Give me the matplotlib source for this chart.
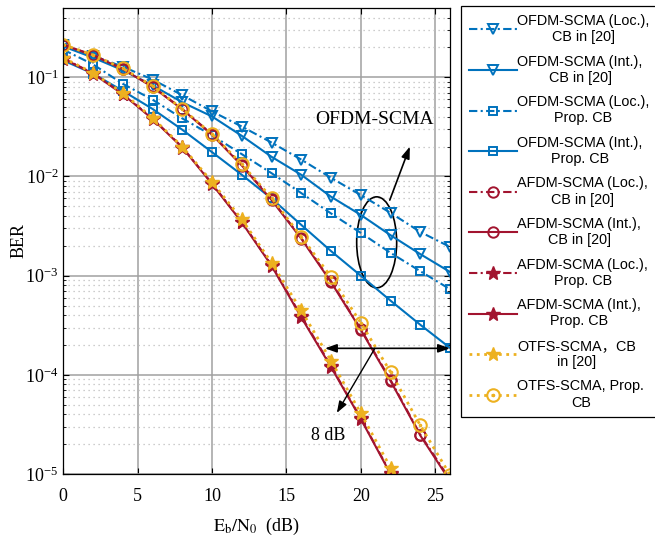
"""
BER vs Eb/N0 for OFDM / AFDM / OTFS-SCMA with two codebooks
"""
import numpy as np
import matplotlib
matplotlib.use('Agg')
import matplotlib.pyplot as plt
from matplotlib.path import Path
from matplotlib.patches import Ellipse
from matplotlib.font_manager import FontProperties
import matplotlib.transforms as mtransforms
from matplotlib.ticker import LogLocator, NullLocator, NullFormatter

plt.rcParams['font.family'] = 'serif'
plt.rcParams['font.serif'] = ['Liberation Serif', 'DejaVu Serif']
plt.rcParams['mathtext.fontset'] = 'stix'

# Eb/N0 in dB
snr = [0, 2, 4, 6, 8, 10, 12, 14, 16, 18, 20, 22, 24, 26]

# OFDM-SCMA
ofdm_loc_cb = [0.21, 0.165, 0.128, 0.095, 0.066, 0.0453, 0.0319, 0.0220, 0.0148,
               0.0097, 0.0065, 0.0043, 0.00276, 0.00195]
ofdm_int_cb = [0.205, 0.158, 0.118, 0.083, 0.056, 0.0403, 0.0257, 0.0158, 0.0104,
               0.00625, 0.0041, 0.00256, 0.00165, 0.00109]
ofdm_loc_prop = [0.19, 0.135, 0.086, 0.0595, 0.0385, 0.026, 0.0168, 0.0108, 0.0068,
                 0.00424, 0.0027, 0.0017, 0.00111, 0.00073]
ofdm_int_prop = [0.148, 0.109, 0.073, 0.048, 0.0296, 0.0176, 0.0104, 0.0060, 0.00325,
                 0.00177, 0.00100, 0.00056, 0.00032, 0.000187]

# AFDM-SCMA
afdm_loc_cb = [0.213, 0.168, 0.122, 0.081, 0.048, 0.0267, 0.0131, 0.0059, 0.0024,
               0.00088, 0.00029, 0.000089, 0.000025, 0.0000088]
afdm_int_cb = [0.212, 0.167, 0.121, 0.080, 0.0475, 0.0263, 0.0129, 0.0058, 0.00236,
               0.00086, 0.000285, 0.000087, 0.0000245, 0.0000085]
afdm_loc_prop = [0.155, 0.110, 0.068, 0.0385, 0.0198, 0.0085, 0.0035, 0.00128, 0.00039,
                 0.000123, 0.0000365, 0.0000102, 0.0000028, 0.0000007]
afdm_int_prop = [0.154, 0.109, 0.0675, 0.038, 0.0196, 0.0084, 0.00345, 0.00126, 0.00038,
                 0.00012, 0.000036, 0.0000100, 0.0000027, 0.0000007]

# OTFS-SCMA
otfs_cb = [0.157, 0.111, 0.0695, 0.039, 0.020, 0.0088, 0.0037, 0.00135, 0.000446,
           0.000139, 0.000041, 0.0000116, 0.0000032, 0.0000008]
otfs_prop = [0.214, 0.168, 0.123, 0.082, 0.048, 0.0268, 0.0133, 0.0061, 0.00248,
             0.00097, 0.000335, 0.000107, 0.000031, 0.0000098]

labels = ['OFDM-SCMA (Loc.),\nCB in [20]', 'OFDM-SCMA (Int.),\nCB in [20]',
          'OFDM-SCMA (Loc.),\nProp. CB', 'OFDM-SCMA (Int.),\nProp. CB',
          'AFDM-SCMA (Loc.),\nCB in [20]', 'AFDM-SCMA (Int.),\nCB in [20]',
          'AFDM-SCMA (Loc.),\nProp. CB', 'AFDM-SCMA (Int.),\nProp. CB',
          'OTFS-SCMA\uff0cCB\nin [20]', 'OTFS-SCMA, Prop.\nCB']

blue = '#0072BD'
red = '#A2142F'
orange = '#EDB120'
dashdot = (0, (4, 1.6, 1, 1.6))

# circle with a dot in the middle
dot_circle = Path.make_compound_path(Path.unit_circle(), Path.circle((0, 0), 0.12))

fig = plt.figure(figsize=(6.55, 5.39), dpi=100)
ax = fig.add_axes([63.3 / 655, 1 - 474 / 539, (450 - 63.3) / 655, (474 - 8) / 539])

lw = 1.5
h = []
h += ax.plot(snr, ofdm_loc_cb, color=blue, ls=dashdot, lw=lw, marker='v', ms=7.5,
             mfc='none', mew=1.4)
h += ax.plot(snr, ofdm_int_cb, color=blue, ls='-', lw=lw, marker='v', ms=7.5,
             mfc='none', mew=1.4)
h += ax.plot(snr, ofdm_loc_prop, color=blue, ls=dashdot, lw=lw, marker='s', ms=6,
             mfc='none', mew=1.4)
h += ax.plot(snr, ofdm_int_prop, color=blue, ls='-', lw=lw, marker='s', ms=6,
             mfc='none', mew=1.4)
h += ax.plot(snr, afdm_loc_cb, color=red, ls=dashdot, lw=lw, marker='o', ms=7.5,
             mfc='none', mew=1.4)
h += ax.plot(snr, afdm_int_cb, color=red, ls='-', lw=lw, marker='o', ms=7.5,
             mfc='none', mew=1.4)
h += ax.plot(snr, afdm_loc_prop, color=red, ls=dashdot, lw=lw, marker='*', ms=10,
             mfc=red, mew=1)
h += ax.plot(snr, afdm_int_prop, color=red, ls='-', lw=lw, marker='*', ms=10,
             mfc=red, mew=1)
h += ax.plot(snr, otfs_cb, color=orange, ls=':', lw=2, marker='*', ms=10,
             mfc=orange, mew=1)
h += ax.plot(snr, otfs_prop, color=orange, ls=':', lw=2, marker=dot_circle, ms=9,
             mfc='none', mew=1.5)

ax.set_yscale('log')
ax.set_xlim(0, 26)
ax.set_ylim(1e-5, 0.5)
ax.set_xticks([0, 5, 10, 15, 20, 25])
ax.xaxis.set_minor_locator(NullLocator())
ax.yaxis.set_major_locator(LogLocator(base=10, numticks=12))
ax.yaxis.set_minor_locator(LogLocator(base=10, subs=np.arange(2, 10), numticks=12))
ax.yaxis.set_minor_formatter(NullFormatter())
ax.tick_params(which='both', direction='in', top=True, right=True, labelsize=13)
ax.tick_params(which='major', length=4)
ax.tick_params(which='minor', length=2.5)
ax.tick_params(axis='x', which='major', pad=10)

ax.grid(True, which='major', color='#a0a0a0', lw=1.1)
ax.grid(True, which='minor', axis='y', color='#bdbdbd', lw=0.9, ls=(0, (1, 3)))
ax.set_axisbelow(True)
for s in ax.spines.values():
    s.set_linewidth(0.9)

ax.set_xlabel(r'$\mathrm{E_b/N_0}$  (dB)', fontsize=13, labelpad=8)
ax.set_ylabel('BER', fontsize=13, labelpad=-2)

# annotations
ax.text(20.9, 0.0373, 'OFDM-SCMA', fontsize=14, ha='center', va='center')
ax.annotate('', xy=(23.3, 0.020), xytext=(21.95, 0.00578),
            arrowprops=dict(arrowstyle='-|>,head_length=0.7,head_width=0.25',
                            color='black', lw=1.2, shrinkA=0, shrinkB=0))
ell = Ellipse((0, 0), 0.40, 0.91, fill=False, edgecolor='black', lw=1.2,
              transform=fig.dpi_scale_trans +
              mtransforms.ScaledTranslation(21.07, 10 ** -2.664, ax.transData))
ax.add_patch(ell)

ax.annotate('', xy=(17.59, 1.85e-4), xytext=(26.0, 1.85e-4),
            arrowprops=dict(arrowstyle='<|-|>,head_length=0.7,head_width=0.25',
                            color='black', lw=1.2, shrinkA=0, shrinkB=0))
ax.annotate('', xy=(18.39, 4.13e-5), xytext=(20.95, 1.85e-4),
            arrowprops=dict(arrowstyle='-|>,head_length=0.7,head_width=0.25',
                            color='black', lw=1.0, shrinkA=0, shrinkB=0))
ax.text(17.8, 2.42e-5, '8 dB', fontsize=13, ha='center', va='center')

# legend box at the right, running up to the figure edge
leg_font = FontProperties(family=['Liberation Sans', 'Noto Sans CJK SC'], size=10.4)
leg = fig.legend(h, labels, loc='upper left', bbox_to_anchor=(461 / 655, 1 - 6 / 539),
                 prop=leg_font, handlelength=3.3, handletextpad=0.05,
                 labelspacing=0.72, borderpad=0.55, borderaxespad=0,
                 fancybox=False, framealpha=1, edgecolor='black')
leg.get_frame().set_linewidth(0.9)
for t in leg.get_texts():
    t.set_multialignment('center')

fig.savefig('out.png', dpi=100)
